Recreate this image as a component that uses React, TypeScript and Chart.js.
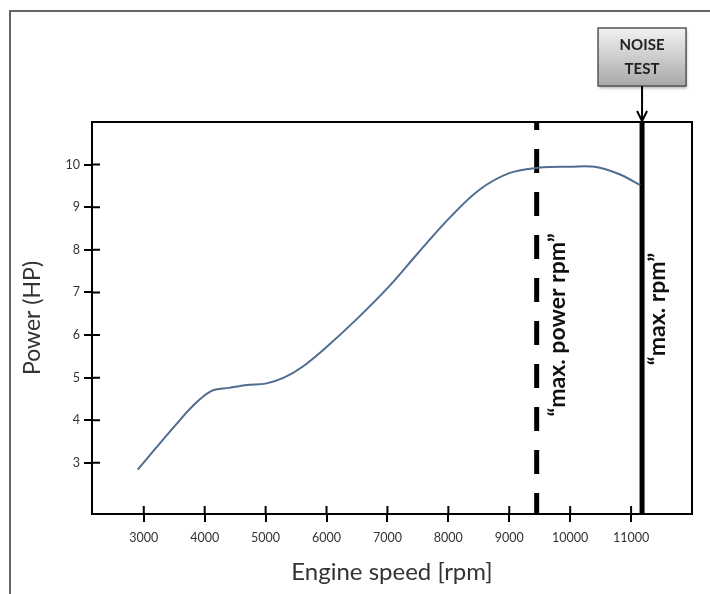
import { useEffect, useRef } from 'react';
import { Chart, registerables } from 'chart.js';

Chart.register(...registerables);

// engine speed [rpm] / power [HP]
const RPM = [2900, 3200, 3500, 3800, 4100, 4400, 4700, 5000, 5300, 5600, 6000, 6500, 7000, 7500, 8000, 8500, 9000, 9500, 10000, 10400, 10800, 11150];
const POWER = [2.84, 3.35, 3.85, 4.33, 4.68, 4.76, 4.83, 4.86, 5.0, 5.25, 5.72, 6.38, 7.1, 7.92, 8.72, 9.4, 9.8, 9.93, 9.95, 9.95, 9.78, 9.52];

const X_TICKS = [3000, 4000, 5000, 6000, 7000, 8000, 9000, 10000, 11000];
const Y_TICKS = [3, 4, 5, 6, 7, 8, 9, 10];

const MAX_POWER_RPM = 9450;
const MAX_RPM = 11180;
const X_MIN = 2150;
const X_MAX = 12000;
const Y_MIN = 1.8;
const Y_MAX = 11;

const FONT = 'Lato, "Open Sans", sans-serif';

const decorPlugin = {
    id: 'decor',
    afterDraw(chart: any) {
        const { ctx, chartArea: a, scales } = chart;
        const xs = scales.x;
        const ys = scales.y;
        ctx.save();

        // frame round the plot
        ctx.strokeStyle = '#000';
        ctx.lineWidth = 2;
        ctx.strokeRect(a.left, a.top, a.right - a.left, a.bottom - a.top);

        // inner half of the tick marks
        ctx.beginPath();
        X_TICKS.forEach((v) => {
            const px = xs.getPixelForValue(v);
            ctx.moveTo(px, a.bottom);
            ctx.lineTo(px, a.bottom - 8);
        });
        Y_TICKS.forEach((v) => {
            const py = ys.getPixelForValue(v);
            ctx.moveTo(a.left, py);
            ctx.lineTo(a.left + 8, py);
        });
        ctx.stroke();

        // rotated labels next to the rpm lines
        ctx.fillStyle = '#111';
        ctx.font = `bold 23px ${FONT}`;
        ctx.textAlign = 'center';
        ctx.textBaseline = 'middle';
        const drawV = (text: string, x: number, y: number) => {
            ctx.save();
            ctx.translate(x, y);
            ctx.rotate(-Math.PI / 2);
            ctx.fillText(text, 0, 0);
            ctx.restore();
        };
        drawV('\u201Cmax. power rpm\u201D', xs.getPixelForValue(MAX_POWER_RPM) + 21, 325);
        drawV('\u201Cmax. rpm\u201D', xs.getPixelForValue(MAX_RPM) + 16, 309);

        // NOISE TEST box with arrow
        const bx = xs.getPixelForValue(MAX_RPM);
        const bw = 88;
        const bTop = 28;
        const bBot = 86;
        ctx.shadowColor = 'rgba(0,0,0,0.35)';
        ctx.shadowBlur = 3;
        ctx.shadowOffsetX = 1;
        ctx.shadowOffsetY = 2;
        const g = ctx.createLinearGradient(0, bTop, 0, bBot);
        g.addColorStop(0, '#f2f2f2');
        g.addColorStop(1, '#a8a8a8');
        ctx.fillStyle = g;
        ctx.fillRect(bx - bw / 2, bTop, bw, bBot - bTop);
        ctx.shadowColor = 'transparent';
        ctx.strokeStyle = '#555';
        ctx.lineWidth = 1.5;
        ctx.strokeRect(bx - bw / 2, bTop, bw, bBot - bTop);
        ctx.fillStyle = '#222';
        ctx.font = `bold 15px ${FONT}`;
        ctx.fillText('NOISE', bx, 45);
        ctx.fillText('TEST', bx, 69);

        ctx.strokeStyle = '#000';
        ctx.lineWidth = 2;
        ctx.beginPath();
        ctx.moveTo(bx, bBot);
        ctx.lineTo(bx, a.top);
        ctx.moveTo(bx - 5, a.top - 11);
        ctx.lineTo(bx, a.top - 1);
        ctx.lineTo(bx + 5, a.top - 11);
        ctx.stroke();

        ctx.restore();
    },
};

export default function App() {
    const canvasRef = useRef<HTMLCanvasElement>(null);

    useEffect(() => {
        if (!canvasRef.current) return;
        const chart = new Chart(canvasRef.current, {
            type: 'line',
            data: {
                datasets: [
                    {
                        data: RPM.map((r, i) => ({ x: r, y: POWER[i] })),
                        borderColor: '#4f6d8f',
                        borderWidth: 2,
                        pointRadius: 0,
                        tension: 0.35,
                        fill: false,
                    },
                    {
                        data: [{ x: MAX_POWER_RPM, y: Y_MAX }, { x: MAX_POWER_RPM, y: Y_MIN - 0.06 }],
                        borderColor: '#000',
                        borderWidth: 5,
                        borderDash: [24, 19],
                        borderDashOffset: 16,
                        borderCapStyle: 'butt',
                        pointRadius: 0,
                    },
                    {
                        data: [{ x: MAX_RPM, y: Y_MIN }, { x: MAX_RPM, y: Y_MAX }],
                        borderColor: '#000',
                        borderWidth: 5,
                        pointRadius: 0,
                    },
                ],
            },
            options: {
                animation: false,
                responsive: true,
                maintainAspectRatio: false,
                layout: { padding: { top: 122, right: 18, left: 0, bottom: 0 } },
                plugins: {
                    legend: { display: false },
                    tooltip: { enabled: false },
                },
                scales: {
                    x: {
                        type: 'linear',
                        min: X_MIN,
                        max: X_MAX,
                        afterFit: (s: any) => { s.height = 80; },
                        afterBuildTicks: (s: any) => { s.ticks = X_TICKS.map((v) => ({ value: v })); },
                        grid: { drawOnChartArea: false, tickLength: 8, color: '#000', lineWidth: 2 },
                        border: { color: '#000', width: 2 },
                        ticks: { padding: 8, color: '#333', font: { family: FONT, size: 12.5 }, autoSkip: false, maxRotation: 0, callback: (v: any) => String(v) },
                        title: { display: true, text: 'Engine speed [rpm]', color: '#333', font: { family: FONT, size: 24 }, padding: { top: 0, bottom: 7 } },
                    },
                    y: {
                        type: 'linear',
                        min: Y_MIN,
                        max: Y_MAX,
                        afterFit: (s: any) => { s.width = 92; },
                        afterBuildTicks: (s: any) => { s.ticks = Y_TICKS.map((v) => ({ value: v })); },
                        grid: { drawOnChartArea: false, tickLength: 8, color: '#000', lineWidth: 2 },
                        border: { color: '#000', width: 2 },
                        ticks: { padding: 4, color: '#333', font: { family: FONT, size: 12.5 }, autoSkip: false, callback: (v: any) => String(v) },
                        title: { display: true, text: 'Power (HP)', color: '#333', font: { family: FONT, size: 23 }, padding: { top: 19, bottom: 0 } },
                    },
                },
            },
            plugins: [decorPlugin],
        });
        return () => { chart.destroy(); };
    }, []);

    return (
        <div style={{ position: 'fixed', left: 0, top: 0, width: 710, height: 594, background: '#fff', overflow: 'hidden' }}>
            <div style={{ position: 'absolute', left: 9, top: 10, width: 740, height: 640, border: '2px solid #666' }} />
            <div style={{ position: 'absolute', left: 0, top: 0, width: 710, height: 594 }}>
                <canvas ref={canvasRef}></canvas>
            </div>
        </div>
    );
}
